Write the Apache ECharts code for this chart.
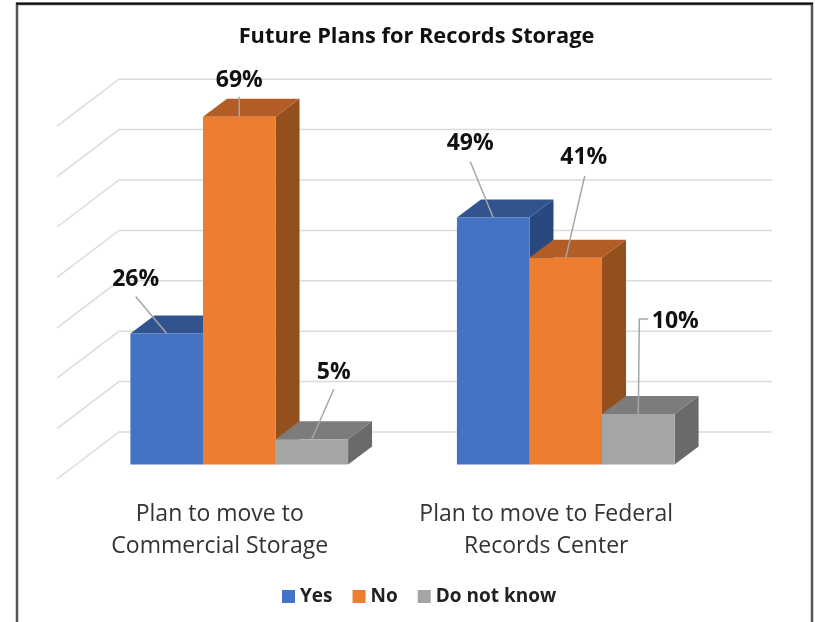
<!DOCTYPE html>
<html>
<head>
<meta charset="utf-8">
<title>Future Plans for Records Storage</title>
<style>
  html, body { margin: 0; background: #fff; }
  #chart { width: 815px; height: 622px; }
</style>
<script src="https://cdn.jsdelivr.net/npm/echarts@6/dist/echarts.min.js"></script>
</head>
<body>
<div id="chart"></div>
<script>
const categories = ['Plan to move to\nCommercial Storage', 'Plan to move to Federal\nRecords Center']
const yes = [26, 49]
const no = [69, 41]
const doNotKnow = [5, 10]
const wallTicks = [0, 10, 20, 30, 40, 50, 60, 70]

const fontFamily = '"Open Sans", sans-serif'

// fake 3d: how far the walls and the bar sides are pushed from the bar front plane
const barDepth = [24, -18]
const wallBack = [43, -32.5]
const wallFront = [-19, 14.5]

// leader line and label, relative to the middle of each bar's top front edge
const yesLeaders = [
  { end: [-31, -37], label: [-31, -54] },
  { end: [-23, -56], label: [-23, -74] }
]
const noLeaders = [
  { end: [0, -20], label: [0, -36] },
  { end: [19, -82], label: [18, -100] }
]
const unknownLeaders = [
  { end: [22, -50], label: [22, -67] },
  { bend: [1, -95], end: [10, -95], label: [37, -93] }
]

function gridLineItem(params, api) {
  const y = api.coord([0, api.value(0)])[1]
  const left = params.coordSys.x
  const right = left + params.coordSys.width
  return {
    type: 'polyline',
    silent: true,
    shape: {
      points: [
        [left + wallFront[0], y + wallFront[1]],
        [left + wallBack[0], y + wallBack[1]],
        [right + wallBack[0], y + wallBack[1]]
      ]
    },
    style: { stroke: '#dcdcdc', lineWidth: 1.5, fill: null }
  }
}

function barItem(slot, colors, leaders) {
  return function (params, api) {
    const cat = api.value(0)
    const value = api.value(1)
    const top = api.coord([cat, value])
    const base = api.coord([cat, 0])
    const w = api.size([1, 0])[0] * 2 / 9
    const x0 = top[0] + (slot - 1.5) * w
    const x1 = x0 + w
    const [dx, dy] = barDepth
    const mid = (x0 + x1) / 2
    const leader = leaders[cat]
    const linePoints = [[mid, top[1]]]
    if (leader.bend) linePoints.push([mid + leader.bend[0], top[1] + leader.bend[1]])
    linePoints.push([mid + leader.end[0], top[1] + leader.end[1]])
    return {
      type: 'group',
      children: [
        {
          type: 'polygon',
          shape: { points: [[x1, top[1]], [x1 + dx, top[1] + dy], [x1 + dx, base[1] + dy], [x1, base[1]]] },
          style: { fill: colors.side }
        },
        {
          type: 'polygon',
          shape: { points: [[x0, top[1]], [x0 + dx, top[1] + dy], [x1 + dx, top[1] + dy], [x1, top[1]]] },
          style: { fill: colors.top }
        },
        {
          type: 'rect',
          shape: { x: x0, y: top[1], width: w, height: base[1] - top[1] },
          style: { fill: colors.front }
        },
        {
          type: 'polyline',
          shape: { points: linePoints },
          style: { stroke: '#a6a6a6', lineWidth: 1.5, fill: null }
        },
        {
          type: 'text',
          style: {
            text: value + '%',
            x: mid + leader.label[0],
            y: top[1] + leader.label[1],
            align: 'center',
            verticalAlign: 'middle',
            fill: '#111',
            fontFamily: fontFamily,
            fontSize: 23,
            fontWeight: 'bold'
          }
        }
      ]
    }
  }
}

function barSeries(name, values, slot, colors, leaders) {
  return {
    name: name,
    type: 'custom',
    coordinateSystem: 'cartesian2d',
    itemStyle: { color: colors.front },
    encode: { x: 0, y: 1 },
    data: values.map((v, i) => [i, v]),
    renderItem: barItem(slot, colors, leaders),
    z: 3
  }
}

const chart = echarts.init(document.getElementById('chart'))
chart.setOption({
  animation: false,
  backgroundColor: '#fff',
  title: {
    text: 'Future Plans for Records Storage',
    left: 411.5,
    top: 21,
    textAlign: 'center',
    textStyle: { fontFamily: fontFamily, fontSize: 21.8, fontWeight: 'bold', color: '#111' }
  },
  legend: {
    data: ['Yes', 'No', 'Do not know'],
    left: 277,
    top: 582,
    icon: 'rect',
    itemWidth: 13,
    itemHeight: 13,
    itemGap: 20,
    textStyle: { fontFamily: fontFamily, fontSize: 19, fontWeight: 'bold', color: '#222' }
  },
  grid: { left: 76, right: 86, top: 111.7, bottom: 157.5 },
  xAxis: {
    type: 'category',
    data: categories,
    axisLine: { show: false },
    axisTick: { show: false },
    axisLabel: {
      interval: 0,
      hideOverlap: false,
      margin: 34,
      lineHeight: 32,
      padding: [0, 39, 0, 0],
      fontFamily: fontFamily,
      fontSize: 23,
      color: '#333'
    }
  },
  yAxis: {
    type: 'value',
    min: 0,
    max: 70,
    interval: 10,
    axisLine: { show: false },
    axisTick: { show: false },
    axisLabel: { show: false },
    splitLine: { show: false }
  },
  graphic: [
    {
      type: 'polyline',
      silent: true,
      shape: { points: [[17, 622], [17, 4], [812, 4], [812, 622]] },
      style: { stroke: '#555', lineWidth: 2.5, fill: null }
    },
    {
      type: 'line',
      silent: true,
      shape: { x1: 16, y1: 3.5, x2: 813, y2: 3.5 },
      style: { stroke: '#111', lineWidth: 2 }
    }
  ],
  series: [
    {
      name: 'walls',
      type: 'custom',
      coordinateSystem: 'cartesian2d',
      encode: { y: 0 },
      data: wallTicks.map(t => [t]),
      renderItem: gridLineItem,
      silent: true,
      z: 1
    },
    barSeries('Yes', yes, 0, { front: '#4472c4', top: '#31548f', side: '#2a4880' }, yesLeaders),
    barSeries('No', no, 1, { front: '#ed7d31', top: '#b15d25', side: '#94501c' }, noLeaders),
    barSeries('Do not know', doNotKnow, 2, { front: '#a5a5a5', top: '#7c7c7c', side: '#6a6a6a' }, unknownLeaders)
  ]
})
</script>
</body>
</html>
